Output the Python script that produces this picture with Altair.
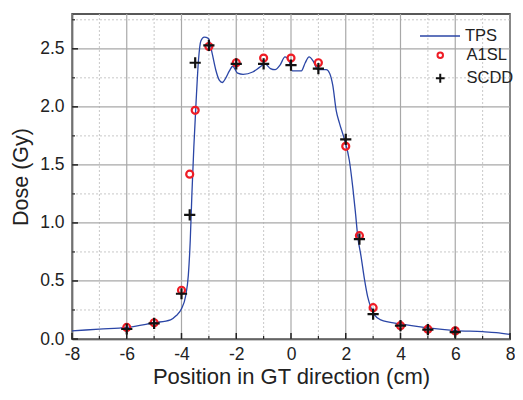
import altair as alt
import pandas as pd

# TPS dose profile (cm, Gy)
tps_x = [-8.0, -7.0, -6.0, -5.0, -4.4, -4.2, -4.0, -3.85, -3.75, -3.68, -3.62, -3.55, -3.47, -3.38,
         -3.29, -3.17, -3.02, -2.88, -2.75, -2.62, -2.51, -2.38, -2.25, -2.13, -1.95, -1.75, -1.4,
         -1.15, -0.95, -0.75, -0.58, -0.4, -0.22, -0.08, 0.05, 0.38, 0.52, 0.66, 0.82, 0.98, 1.29,
         1.41, 1.53, 1.65, 1.77, 1.95, 2.13, 2.26, 2.35, 2.44, 2.56, 2.68, 2.80, 2.92, 3.04, 3.28,
         4.0, 5.0, 6.0, 7.0, 7.5, 8.0]
tps_y = [0.07, 0.085, 0.10, 0.14, 0.165, 0.20, 0.26, 0.37, 0.55, 0.85, 1.25, 1.65, 2.03, 2.40,
         2.57, 2.60, 2.59, 2.46, 2.32, 2.23, 2.21, 2.25, 2.31, 2.35, 2.29, 2.28, 2.30,
         2.34, 2.37, 2.33, 2.32, 2.36, 2.43, 2.40, 2.31, 2.31, 2.38, 2.43, 2.39, 2.32, 2.32,
         2.29, 2.18, 1.97, 1.86, 1.72, 1.54, 1.30, 1.10, 0.88, 0.71, 0.52, 0.365, 0.27, 0.21, 0.165,
         0.13, 0.095, 0.072, 0.063, 0.055, 0.04]

# A1SL measurements
a1sl_x = [-6, -5, -4, -3.7, -3.5, -3, -2, -1, 0, 1, 2, 2.5, 3, 4, 5, 6]
a1sl_y = [0.10, 0.14, 0.42, 1.42, 1.97, 2.52, 2.38, 2.42, 2.42, 2.38, 1.66, 0.89, 0.27, 0.115, 0.085, 0.07]

# SCDD measurements
scdd_x = [-6, -5, -4, -3.7, -3.5, -3, -2, -1, 0, 1, 2, 2.5, 3, 4, 5, 6]
scdd_y = [0.086, 0.135, 0.39, 1.07, 2.38, 2.53, 2.37, 2.37, 2.36, 2.33, 1.72, 0.86, 0.215, 0.115, 0.08, 0.06]

series_names = ["TPS", "A1SL", "SCDD"]
series_colors = ["#2b46a6", "#ee1c25", "#111111"]

x_major = [-8, -6, -4, -2, 0, 2, 4, 6, 8]
x_minor = [-7, -5, -3, -1, 1, 3, 5, 7]
y_major = [0.0, 0.5, 1.0, 1.5, 2.0, 2.5]
y_minor = [0.25, 0.75, 1.25, 1.75, 2.25, 2.75]

W, H = 438, 325
FONT = "Liberation Sans"

tps = pd.DataFrame({"x": tps_x, "dose": tps_y, "curve": series_names[0]})
meas = pd.concat([
    pd.DataFrame({"x": a1sl_x, "dose": a1sl_y, "series": series_names[1]}),
    pd.DataFrame({"x": scdd_x, "dose": scdd_y, "series": series_names[2]}),
])

xs = alt.Scale(domain=[-8, 8], nice=False, zero=False)
ys = alt.Scale(domain=[0, 2.8], nice=False, zero=False)

xaxis = alt.Axis(values=x_major, labelExpr="toString(datum.value)", grid=False, ticks=False,
                 domain=True, domainColor="#222", domainWidth=1.5, labelFont=FONT,
                 labelFontSize=17.5, labelColor="#222", labelPadding=6, labelFlush=False,
                 title="Position in GT direction (cm)", titleFont=FONT, titleFontSize=22,
                 titleFontWeight="normal", titleColor="#222", titlePadding=4)
yaxis = alt.Axis(values=y_major, format=".1f", grid=False, ticks=False, domain=True,
                 domainColor="#222", domainWidth=1.5, labelFont=FONT, labelFontSize=17.5,
                 labelColor="#222", labelPadding=8, labelFlush=False, title="Dose (Gy)",
                 titleFont=FONT, titleFontSize=21.5, titleFontWeight="normal", titleColor="#222",
                 titlePadding=7)

gx_major = pd.DataFrame({"v": x_major})
gx_minor = pd.DataFrame({"v": x_minor})
gy_major = pd.DataFrame({"v": y_major})
gy_minor = pd.DataFrame({"v": y_minor})

grid = [
    alt.Chart(gx_minor).mark_rule(color="#c8c8c8", strokeWidth=1, strokeDash=[2, 2]).encode(
        x=alt.X("v:Q", scale=xs, axis=xaxis)),
    alt.Chart(gy_minor).mark_rule(color="#c8c8c8", strokeWidth=1, strokeDash=[2, 2]).encode(
        y=alt.Y("v:Q", scale=ys, axis=yaxis)),
    alt.Chart(gx_major).mark_rule(color="#a8a8a8", strokeWidth=1.2).encode(
        x=alt.X("v:Q", scale=xs)),
    alt.Chart(gy_major).mark_rule(color="#a8a8a8", strokeWidth=1.2).encode(
        y=alt.Y("v:Q", scale=ys)),
]

ticks = [
    alt.Chart(gx_major).mark_rule(color="#222", strokeWidth=1.5).encode(
        x=alt.X("v:Q", scale=xs), y=alt.value(H), y2=alt.value(H - 6)),
    alt.Chart(gx_minor).mark_rule(color="#222", strokeWidth=1.2).encode(
        x=alt.X("v:Q", scale=xs), y=alt.value(H), y2=alt.value(H - 3)),
    alt.Chart(gy_major).mark_rule(color="#222", strokeWidth=1.5).encode(
        y=alt.Y("v:Q", scale=ys), x=alt.value(0), x2=alt.value(6)),
    alt.Chart(gy_minor).mark_rule(color="#222", strokeWidth=1.2).encode(
        y=alt.Y("v:Q", scale=ys), x=alt.value(0), x2=alt.value(3)),
]

line = alt.Chart(tps).mark_line(strokeWidth=1.3, interpolate="monotone").encode(
    x=alt.X("x:Q", scale=xs),
    y=alt.Y("dose:Q", scale=ys),
    stroke=alt.Stroke("curve:N",
                      scale=alt.Scale(domain=series_names[:1], range=series_colors[:1]),
                      legend=alt.Legend(orient="none", legendX=347, legendY=1, title=None,
                                        symbolType="stroke", symbolSize=1600,
                                        symbolStrokeWidth=1.5, labelFont=FONT,
                                        labelFontSize=16.5, labelColor="#222", labelOffset=4,
                                        padding=0)),
)

cross = "M-1.6,0L1.6,0M0,-1.6L0,1.6"
leg2 = alt.Legend(orient="none", legendX=360, legendY=33, title=None,
                  symbolSize=30, symbolStrokeWidth=2, labelFont=FONT,
                  labelFontSize=16.5, labelColor="#222", labelOffset=18,
                  rowPadding=5, padding=0)
points = alt.Chart(meas).mark_point(filled=False, strokeWidth=2.2, size=49, opacity=1).encode(
    x=alt.X("x:Q", scale=xs),
    y=alt.Y("dose:Q", scale=ys),
    color=alt.Color("series:N",
                    scale=alt.Scale(domain=series_names[1:], range=series_colors[1:]),
                    legend=leg2),
    shape=alt.Shape("series:N",
                    scale=alt.Scale(domain=series_names[1:], range=["circle", cross]),
                    legend=leg2),
)

chart = alt.layer(*grid, line, points, *ticks).properties(
    width=W, height=H,
    autosize=alt.AutoSizeParams(type="none"),
    padding={"left": 64, "top": 6, "right": 5, "bottom": 53},
).configure_view(stroke="#222", strokeWidth=1.5)

chart.save("out.html", embed_options={"renderer": "svg", "actions": False})
